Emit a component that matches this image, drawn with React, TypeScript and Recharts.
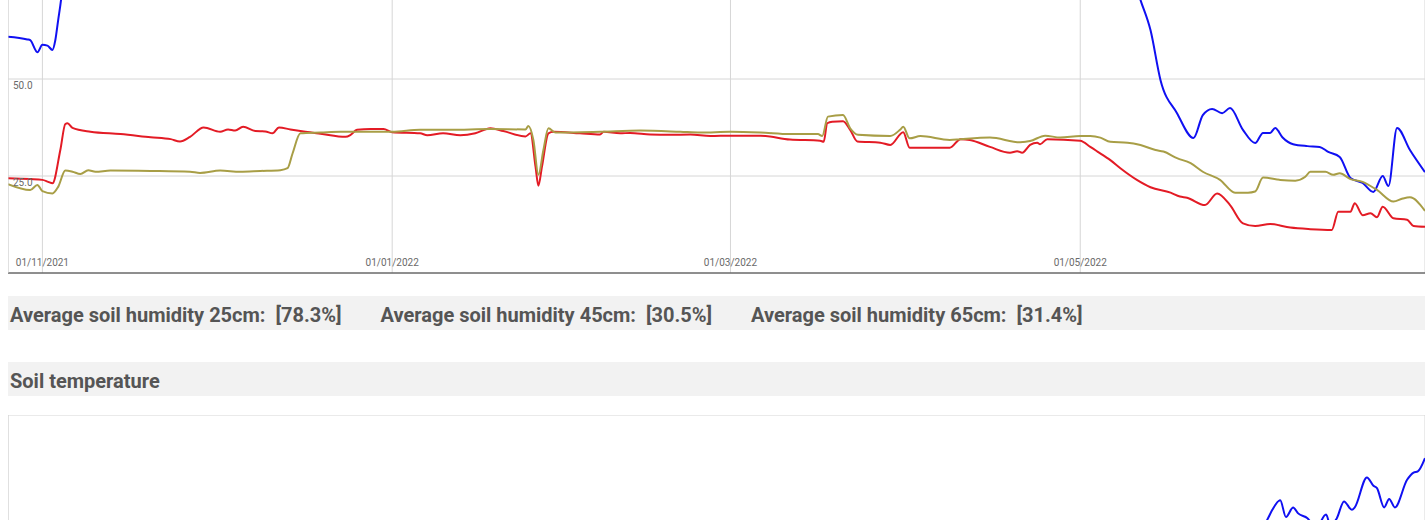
import { LineChart, Line, XAxis, YAxis, CartesianGrid } from "recharts";

// time range and ticks shared by both charts
const xStart = "2021-10-26 00:00";
const xEnd = "2022-06-30 03:00";
const xTicks = ["2021-11-01 00:00", "2022-01-01 00:00", "2022-03-01 00:00", "2022-05-01 00:00"];
const humidityTicks = [0, 25, 50, 75, 100];
const humidityLabels = [25, 50];
const tempTicks = [0, 10, 20, 30];

// soil humidity (%)
const humidity25: [string, number][] = [
  ["2021-10-26 00:00", 60.9], ["2021-10-29 09:00", 60.2], ["2021-10-29 21:00", 60.0],
  ["2021-10-31 03:00", 56.9], ["2021-11-01 00:00", 58.8], ["2021-11-01 21:00", 58.6],
  ["2021-11-02 18:00", 57.5], ["2021-11-03 06:00", 60.0], ["2021-11-03 18:00", 65.2],
  ["2021-11-04 06:00", 70.4], ["2021-11-04 18:00", 78.0], ["2021-11-06 00:00", 85.0],
  ["2021-11-10 00:00", 87.0], ["2021-11-25 00:00", 86.0], ["2021-12-15 00:00", 88.0],
  ["2022-01-05 00:00", 87.0], ["2022-01-26 00:00", 84.0], ["2022-02-15 00:00", 87.0],
  ["2022-03-10 00:00", 86.0], ["2022-03-20 00:00", 89.0], ["2022-04-10 00:00", 86.0],
  ["2022-04-25 00:00", 85.0], ["2022-05-05 00:00", 86.0], ["2022-05-08 00:00", 84.0],
  ["2022-05-10 00:00", 77.5], ["2022-05-11 12:00", 70.4], ["2022-05-13 06:00", 62.6],
  ["2022-05-15 00:00", 49.7], ["2022-05-17 21:00", 41.2], ["2022-05-20 18:00", 34.8],
  ["2022-05-22 09:00", 40.7], ["2022-05-24 00:00", 42.3], ["2022-05-25 18:00", 41.2],
  ["2022-05-27 03:00", 42.5], ["2022-05-29 09:00", 36.9], ["2022-05-31 12:00", 33.5],
  ["2022-06-01 21:00", 36.1], ["2022-06-03 03:00", 36.1], ["2022-06-04 00:00", 37.4],
  ["2022-06-05 06:00", 35.0], ["2022-06-07 03:00", 33.2], ["2022-06-09 15:00", 32.7],
  ["2022-06-11 18:00", 32.5], ["2022-06-13 06:00", 31.2], ["2022-06-15 06:00", 29.9],
  ["2022-06-17 03:00", 24.5], ["2022-06-19 06:00", 23.2], ["2022-06-21 03:00", 20.9],
  ["2022-06-22 18:00", 25.0], ["2022-06-23 18:00", 22.4], ["2022-06-25 06:00", 37.4],
  ["2022-06-27 12:00", 31.7], ["2022-06-30 03:00", 26.0],
];

const humidity45: [string, number][] = [
  ["2021-10-26 00:00", 24.4], ["2021-10-29 21:00", 24.2], ["2021-11-01 00:00", 24.0],
  ["2021-11-02 00:00", 23.5], ["2021-11-02 18:00", 23.1], ["2021-11-04 03:00", 31.7],
  ["2021-11-05 00:00", 38.4], ["2021-11-05 09:00", 38.6], ["2021-11-06 06:00", 37.4],
  ["2021-11-09 09:00", 36.4], ["2021-11-14 15:00", 35.8], ["2021-11-19 21:00", 35.0],
  ["2021-11-23 09:00", 34.5], ["2021-11-25 00:00", 33.9], ["2021-11-26 18:00", 35.1],
  ["2021-11-29 03:00", 37.5], ["2021-12-02 00:00", 36.4], ["2021-12-03 09:00", 37.0],
  ["2021-12-04 15:00", 36.7], ["2021-12-06 00:00", 37.7], ["2021-12-08 03:00", 36.6],
  ["2021-12-09 21:00", 36.5], ["2021-12-11 03:00", 36.0], ["2021-12-12 06:00", 37.5],
  ["2021-12-14 06:00", 37.0], ["2021-12-16 21:00", 36.4], ["2021-12-19 12:00", 35.9],
  ["2021-12-23 21:00", 35.1], ["2021-12-24 18:00", 35.6], ["2021-12-25 21:00", 36.9],
  ["2021-12-28 06:00", 37.1], ["2021-12-30 12:00", 37.1], ["2022-01-01 00:00", 36.3],
  ["2022-01-05 21:00", 36.0], ["2022-01-07 03:00", 35.5], ["2022-01-09 21:00", 36.0],
  ["2022-01-12 21:00", 35.5], ["2022-01-15 12:00", 36.0], ["2022-01-18 03:00", 37.3],
  ["2022-01-20 09:00", 36.6], ["2022-01-24 06:00", 35.2], ["2022-01-25 03:00", 36.0],
  ["2022-01-26 00:00", 27.4], ["2022-01-26 12:00", 22.5], ["2022-01-27 03:00", 27.4],
  ["2022-01-28 06:00", 36.0], ["2022-01-29 03:00", 36.4], ["2022-02-02 18:00", 36.0],
  ["2022-02-06 06:00", 35.7], ["2022-02-06 21:00", 36.4], ["2022-02-09 18:00", 36.0],
  ["2022-02-11 12:00", 36.1], ["2022-02-15 00:00", 35.7], ["2022-02-18 12:00", 35.6],
  ["2022-02-22 00:00", 35.7], ["2022-02-25 12:00", 35.3], ["2022-03-01 00:00", 35.4],
  ["2022-03-06 06:00", 35.4], ["2022-03-11 09:00", 34.4], ["2022-03-16 15:00", 34.1],
  ["2022-03-17 06:00", 33.8], ["2022-03-17 21:00", 38.6], ["2022-03-18 18:00", 39.0],
  ["2022-03-20 15:00", 39.1], ["2022-03-21 21:00", 36.9], ["2022-03-23 03:00", 33.9],
  ["2022-03-27 03:00", 33.6], ["2022-03-28 21:00", 33.0], ["2022-03-31 03:00", 36.3],
  ["2022-04-01 06:00", 32.3], ["2022-04-08 06:00", 32.3], ["2022-04-10 03:00", 34.5],
  ["2022-04-11 18:00", 34.3], ["2022-04-15 06:00", 32.5], ["2022-04-18 18:00", 31.0],
  ["2022-04-20 00:00", 31.4], ["2022-04-20 21:00", 31.0], ["2022-04-22 06:00", 33.0],
  ["2022-04-23 12:00", 33.6], ["2022-04-24 00:00", 33.2], ["2022-04-25 06:00", 34.5],
  ["2022-05-01 00:00", 34.1], ["2022-05-02 18:00", 32.5], ["2022-05-04 00:00", 31.3],
  ["2022-05-06 06:00", 29.1], ["2022-05-08 00:00", 27.0], ["2022-05-10 21:00", 24.0],
  ["2022-05-13 06:00", 22.1], ["2022-05-16 18:00", 20.7], ["2022-05-18 09:00", 19.7],
  ["2022-05-19 15:00", 19.4], ["2022-05-22 18:00", 17.5], ["2022-05-24 21:00", 20.5],
  ["2022-05-27 03:00", 17.5], ["2022-05-29 09:00", 12.8], ["2022-05-31 12:00", 12.1],
  ["2022-06-03 03:00", 12.6], ["2022-06-06 15:00", 11.7], ["2022-06-10 03:00", 11.3],
  ["2022-06-13 21:00", 11.1], ["2022-06-15 00:00", 15.8], ["2022-06-17 03:00", 15.8],
  ["2022-06-17 21:00", 18.0], ["2022-06-19 06:00", 14.9], ["2022-06-20 15:00", 15.4],
  ["2022-06-21 18:00", 14.4], ["2022-06-22 18:00", 17.1], ["2022-06-24 15:00", 14.1],
  ["2022-06-27 00:00", 13.7], ["2022-06-28 03:00", 12.1], ["2022-06-30 03:00", 11.9],
];

const humidity65: [string, number][] = [
  ["2021-10-26 00:00", 22.9], ["2021-10-29 21:00", 21.4], ["2021-10-31 03:00", 22.7],
  ["2021-11-01 00:00", 21.1], ["2021-11-02 18:00", 20.5], ["2021-11-03 18:00", 22.2],
  ["2021-11-05 00:00", 26.4], ["2021-11-06 06:00", 26.1], ["2021-11-07 15:00", 25.5],
  ["2021-11-09 00:00", 26.5], ["2021-11-10 06:00", 26.1], ["2021-11-12 21:00", 26.4],
  ["2021-11-19 21:00", 26.3], ["2021-11-26 18:00", 26.1], ["2021-11-28 12:00", 25.8],
  ["2021-12-02 00:00", 26.4], ["2021-12-05 12:00", 26.1], ["2021-12-09 00:00", 26.3],
  ["2021-12-12 12:00", 26.5], ["2021-12-13 18:00", 27.0], ["2021-12-14 15:00", 30.8],
  ["2021-12-16 00:00", 36.0], ["2021-12-19 12:00", 36.2], ["2021-12-23 00:00", 36.4],
  ["2021-12-26 12:00", 36.4], ["2022-01-01 00:00", 36.4], ["2022-01-05 21:00", 36.9],
  ["2022-01-11 03:00", 36.9], ["2022-01-18 03:00", 37.1], ["2022-01-24 06:00", 37.0],
  ["2022-01-24 18:00", 37.9], ["2022-01-25 15:00", 34.3], ["2022-01-26 12:00", 25.3],
  ["2022-01-27 09:00", 31.7], ["2022-01-28 06:00", 37.3], ["2022-01-29 12:00", 36.2],
  ["2022-02-06 06:00", 36.4], ["2022-02-13 06:00", 36.7], ["2022-02-20 06:00", 36.4],
  ["2022-02-23 18:00", 36.2], ["2022-03-01 00:00", 36.4], ["2022-03-06 06:00", 36.2],
  ["2022-03-11 09:00", 35.8], ["2022-03-16 06:00", 35.8], ["2022-03-17 00:00", 35.3],
  ["2022-03-18 00:00", 40.3], ["2022-03-20 15:00", 40.7], ["2022-03-21 21:00", 37.3],
  ["2022-03-23 06:00", 35.6], ["2022-03-28 21:00", 35.3], ["2022-03-30 15:00", 37.0],
  ["2022-03-31 03:00", 37.7], ["2022-04-01 06:00", 34.7], ["2022-04-03 03:00", 35.3],
  ["2022-04-08 06:00", 34.3], ["2022-04-10 03:00", 34.5], ["2022-04-15 06:00", 34.9],
  ["2022-04-20 12:00", 33.7], ["2022-04-22 06:00", 34.0], ["2022-04-24 21:00", 35.4],
  ["2022-04-27 12:00", 34.9], ["2022-05-01 00:00", 35.3], ["2022-05-02 18:00", 35.3],
  ["2022-05-04 12:00", 34.9], ["2022-05-06 06:00", 33.8], ["2022-05-09 06:00", 33.6],
  ["2022-05-11 12:00", 33.0], ["2022-05-14 03:00", 31.7], ["2022-05-15 12:00", 31.3],
  ["2022-05-17 21:00", 29.6], ["2022-05-20 06:00", 28.3], ["2022-05-22 09:00", 26.1],
  ["2022-05-25 09:00", 24.0], ["2022-05-28 00:00", 20.7], ["2022-05-30 06:00", 20.7],
  ["2022-05-31 12:00", 21.0], ["2022-06-01 21:00", 24.6], ["2022-06-04 21:00", 24.0],
  ["2022-06-07 12:00", 23.8], ["2022-06-09 06:00", 24.8], ["2022-06-10 03:00", 26.1],
  ["2022-06-12 18:00", 26.1], ["2022-06-14 03:00", 25.3], ["2022-06-15 06:00", 25.7],
  ["2022-06-17 03:00", 24.2], ["2022-06-19 06:00", 23.5], ["2022-06-21 18:00", 21.4],
  ["2022-06-24 15:00", 18.4], ["2022-06-26 06:00", 19.2], ["2022-06-27 12:00", 19.5],
  ["2022-06-30 03:00", 16.0],
];

// soil temperature (°C)
const temperature: [string, number][] = [
  ["2021-10-26 00:00", 14.0], ["2021-11-15 00:00", 11.5], ["2021-12-10 00:00", 8.0],
  ["2022-01-10 00:00", 6.0], ["2022-02-10 00:00", 6.5], ["2022-03-10 00:00", 9.0],
  ["2022-04-10 00:00", 12.5], ["2022-05-01 00:00", 15.0], ["2022-05-20 00:00", 18.0],
  ["2022-06-01 00:00", 19.8], ["2022-06-02 18:00", 21.4], ["2022-06-03 12:00", 22.1],
  ["2022-06-04 21:00", 22.9], ["2022-06-05 21:00", 21.5], ["2022-06-07 03:00", 22.3],
  ["2022-06-08 00:00", 21.8], ["2022-06-09 15:00", 21.4], ["2022-06-11 03:00", 20.6],
  ["2022-06-12 21:00", 21.7], ["2022-06-13 15:00", 20.8], ["2022-06-14 18:00", 21.4],
  ["2022-06-16 00:00", 22.8], ["2022-06-17 09:00", 22.1], ["2022-06-17 21:00", 22.3],
  ["2022-06-20 00:00", 24.8], ["2022-06-21 03:00", 24.1], ["2022-06-21 18:00", 23.9],
  ["2022-06-23 00:00", 22.3], ["2022-06-23 21:00", 23.0], ["2022-06-24 21:00", 22.3],
  ["2022-06-27 00:00", 24.6], ["2022-06-28 03:00", 25.2], ["2022-06-28 21:00", 25.3],
  ["2022-06-30 03:00", 26.4],
];

const averageLabels = ["Average soil humidity 25cm:", "Average soil humidity 45cm:", "Average soil humidity 65cm:"];
const averageValues = ["78.3%", "30.5%", "31.4%"];

function toTime(s: string) {
  const [d, h] = s.split(" ");
  const [y, m, day] = d.split("-").map(Number);
  const [hh, mm] = h.split(":").map(Number);
  return Date.UTC(y, m - 1, day, hh, mm);
}

const toPoints = (rows: [string, number][]) => rows.map(([t, v]) => ({ t: toTime(t), v }));

const pad = (n: number) => String(n).padStart(2, "0");
const fmtDate = (ms: number) => {
  const d = new Date(ms);
  return `${pad(d.getUTCDate())}/${pad(d.getUTCMonth() + 1)}/${d.getUTCFullYear()}`;
};

const domainX = [toTime(xStart), toTime(xEnd)];
const ticksX = xTicks.map(toTime);

const BLUE = "#1010f2";
const RED = "#e31b25";
const OLIVE = "#a89e46";
const GRID = "#d6d6d6";
const LABEL = "#6a6a6a";

const XTick = ({ x, y, payload }: any) => (
  <text x={x} y={y - 7} textAnchor="middle" fontSize={10} fill={LABEL}>
    {fmtDate(payload.value)}
  </text>
);

const YTick = ({ x, y, payload }: any) => {
  if (!humidityLabels.includes(payload.value)) return <g />;
  return (
    <text x={x + 5} y={y + 10} textAnchor="start" fontSize={10} fill={LABEL}>
      {payload.value.toFixed(1)}
    </text>
  );
};

const barStyle: React.CSSProperties = {
  background: "#f2f2f2",
  height: 34,
  boxSizing: "border-box",
  paddingTop: 4,
  paddingLeft: 2,
  lineHeight: "30px",
  fontSize: 20,
  fontWeight: 700,
  color: "#555",
  whiteSpace: "pre",
};

export default function App() {
  const W = 1417;
  return (
    <div
      style={{
        position: "fixed",
        left: 8,
        top: 0,
        width: W,
        height: 520,
        overflow: "hidden",
        fontFamily: "Roboto, sans-serif",
        background: "#fff",
      }}
    >
      <div style={{ position: "relative", height: 274, overflow: "hidden" }}>
        <div style={{ position: "absolute", top: -115, left: -1 }}>
          <LineChart width={W + 1} height={390} margin={{ top: 0, right: 0, bottom: 0, left: 0 }}>
            <CartesianGrid stroke={GRID} />
            <XAxis
              dataKey="t"
              type="number"
              domain={domainX}
              ticks={ticksX}
              interval={0}
              allowDataOverflow
              height={2}
              tickSize={0}
              tickMargin={0}
              tick={<XTick />}
              axisLine={{ stroke: "#333" }}
            />
            <YAxis
              type="number"
              domain={[0, 100]}
              ticks={humidityTicks}
              interval={0}
              width={1}
              tickSize={0}
              tickMargin={0}
              tick={<YTick />}
              axisLine={{ stroke: GRID }}
            />
            <Line data={toPoints(humidity25)} dataKey="v" type="monotone" stroke={BLUE} strokeWidth={2} dot={false} isAnimationActive={false} />
            <Line data={toPoints(humidity45)} dataKey="v" type="monotone" stroke={RED} strokeWidth={2} dot={false} isAnimationActive={false} />
            <Line data={toPoints(humidity65)} dataKey="v" type="monotone" stroke={OLIVE} strokeWidth={2} dot={false} isAnimationActive={false} />
          </LineChart>
        </div>
      </div>

      <div style={{ ...barStyle, marginTop: 22 }}>
        {averageLabels.map((label, i) => (
          <span key={label} style={{ display: "inline-block", marginRight: 39 }}>
            {`${label}  [${averageValues[i]}]`}
          </span>
        ))}
      </div>

      <div style={{ ...barStyle, marginTop: 32 }}>Soil temperature</div>

      <div style={{ marginTop: 19, marginLeft: -1 }}>
        <LineChart width={W + 1} height={362} margin={{ top: 0, right: 0, bottom: 0, left: 0 }}>
          <CartesianGrid stroke={GRID} />
          <XAxis
            dataKey="t"
            type="number"
            domain={domainX}
            ticks={ticksX}
            interval={0}
            allowDataOverflow
            height={2}
            tick={false}
            tickLine={false}
            axisLine={{ stroke: "#333" }}
          />
          <YAxis
            type="number"
            domain={[0, 30]}
            ticks={tempTicks}
            interval={0}
            width={1}
            tick={false}
            tickLine={false}
            axisLine={{ stroke: GRID }}
          />
          <Line data={toPoints(temperature)} dataKey="v" type="monotone" stroke={BLUE} strokeWidth={2} dot={false} isAnimationActive={false} />
        </LineChart>
      </div>
    </div>
  );
}
